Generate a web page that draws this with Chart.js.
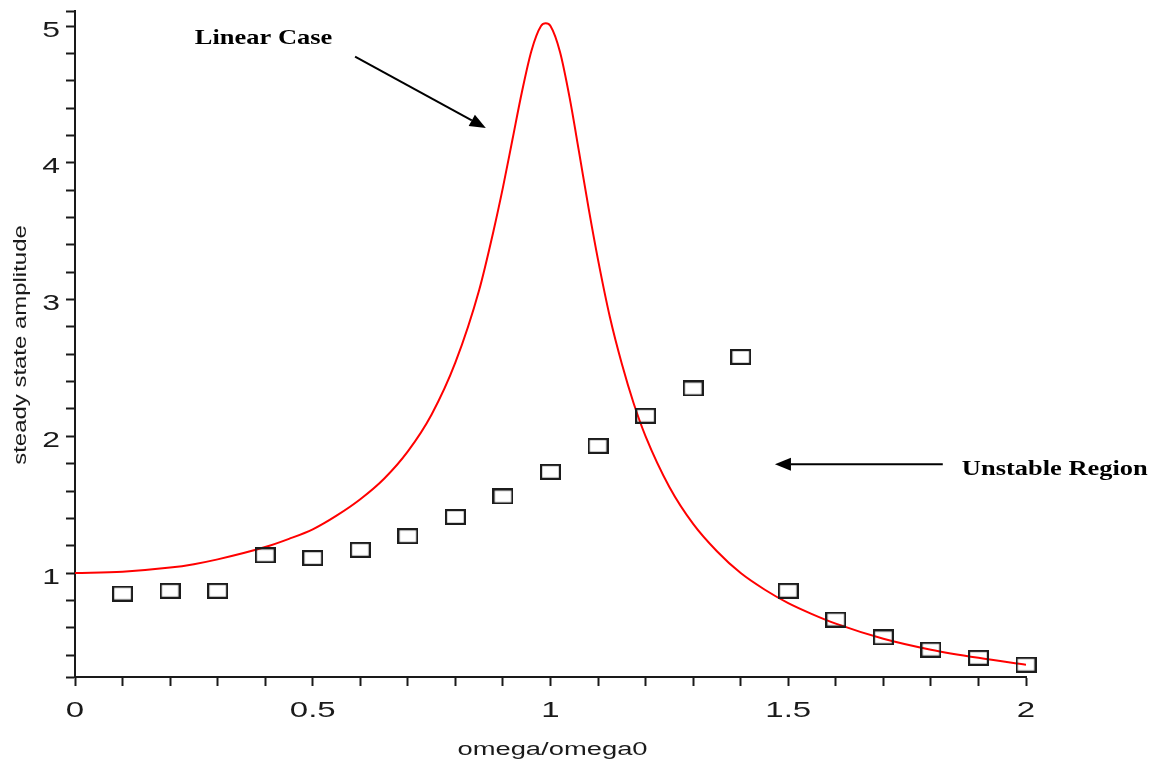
<!DOCTYPE html>
<html>
<head>
<meta charset="utf-8">
<title>steady state amplitude</title>
<script src="https://cdn.jsdelivr.net/npm/chart.js@4/dist/chart.umd.min.js"></script>
<style>
html, body { margin: 0; padding: 0; background: #ffffff; }
#wrap { position: relative; width: 1161px; height: 767px; }
</style>
</head>
<body>
<div id="wrap"><canvas id="ampChart"></canvas></div>
<script>
/*==================================================
 steady state amplitude vs omega/omega0
==================================================*/

//------------------------------------
// Data
//------------------------------------

// linear response (red curve)
const curveOmega = [0, 0.1, 0.2, 0.25, 0.3, 0.4, 0.45, 0.5, 0.55, 0.6, 0.65, 0.7, 0.75, 0.8, 0.85,
    0.88, 0.9, 0.92, 0.94, 0.96, 0.98, 0.99, 1.0, 1.02, 1.04, 1.06, 1.08, 1.1, 1.125, 1.15, 1.175,
    1.2, 1.25, 1.3, 1.35, 1.4, 1.45, 1.5, 1.55, 1.6, 1.7, 1.8, 1.9, 2.0];
const curveAmp = [1.00, 1.01, 1.04, 1.065, 1.10, 1.19, 1.25, 1.32, 1.42, 1.54, 1.69, 1.89, 2.16, 2.54, 3.07,
    3.50, 3.82, 4.17, 4.52, 4.82, 5.00, 5.02, 5.00, 4.81, 4.48, 4.08, 3.67, 3.29, 2.87, 2.53, 2.24,
    2.00, 1.63, 1.36, 1.16, 1.00, 0.88, 0.78, 0.70, 0.63, 0.52, 0.44, 0.38, 0.33];

// simulated points (boxes)
const pointOmega = [0.1, 0.2, 0.3, 0.4, 0.5, 0.6, 0.7, 0.8, 0.9, 1.0, 1.1, 1.2, 1.3, 1.4, 1.5, 1.6, 1.7, 1.8, 1.9, 2.0];
const pointAmp = [0.85, 0.87, 0.87, 1.13, 1.11, 1.17, 1.27, 1.41, 1.56, 1.74, 1.93, 2.15, 2.35, 2.58, 0.87, 0.66, 0.53, 0.44, 0.38, 0.33];

// axes
const xTickLabels = [0, 0.5, 1, 1.5, 2];
const yTickLabels = [1, 2, 3, 4, 5];
const xMin = 0, xMax = 2, xMinorStep = 0.1;
const yMin = 0.24, yMax = 5.11, yMinorStep = 0.2;
const xTitle = "omega/omega0";
const yTitle = "steady state amplitude";

// notes, placed in data units
const notes = [
    { text: "Linear Case", x: 0.252, y: 4.87 },
    { text: "Unstable Region", x: 1.865, y: 1.72 }
];
const arrows = [
    { from: [0.589, 4.777], to: [0.864, 4.254] },
    { from: [1.825, 1.795], to: [1.472, 1.795] }
];

//------------------------------------
// Helpers
//------------------------------------

function minorTicks(min, max, step, withEnds) {

    let out = [];

    const n = Math.round(max / step);

    for (let k = Math.ceil(min / step - 1e-9); k <= n; k++) {

        const v = Math.round(k * step * 1000) / 1000;

        if (v >= min && v <= max) out.push(v);

    }

    if (withEnds) {

        if (out[0] > min) out.unshift(min);

        if (out[out.length - 1] < max) out.push(max);

    }

    return out;
}

function boxMarker() {

    const c = document.createElement("canvas");

    c.width = 21;
    c.height = 16;

    const g = c.getContext("2d");

    g.strokeStyle = "#1c1c1c";
    g.lineWidth = 2.2;
    g.strokeRect(1.1, 1.1, 18.8, 13.8);

    return c;
}

function stretchText(ctx, text, x, y, sx, align) {

    ctx.save();
    ctx.translate(x, y);
    ctx.scale(sx, 1);
    ctx.textAlign = align;
    ctx.textBaseline = "alphabetic";
    ctx.fillText(text, 0, 0);
    ctx.restore();
}

function drawArrow(ctx, x1, y1, x2, y2) {

    const ang = Math.atan2(y2 - y1, x2 - x1);
    const len = 16, half = 6.5;
    const c = Math.cos(ang), s = Math.sin(ang);

    ctx.beginPath();
    ctx.moveTo(x1, y1);
    ctx.lineTo(x2 - len * c, y2 - len * s);
    ctx.stroke();

    ctx.beginPath();
    ctx.moveTo(x2, y2);
    ctx.lineTo(x2 - len * c + half * s, y2 - len * s - half * c);
    ctx.lineTo(x2 - len * c - half * s, y2 - len * s + half * c);
    ctx.closePath();
    ctx.fill();
}

//------------------------------------
// Labels, titles and notes
//------------------------------------

const textPlugin = {

    id: "textPlugin",

    afterDraw(chart) {

        const ctx = chart.ctx;
        const xs = chart.scales.x;
        const ys = chart.scales.y;

        ctx.save();
        ctx.fillStyle = "#1a1a1a";

        // tick labels
        ctx.font = "22px 'Liberation Sans', Arial, sans-serif";

        yTickLabels.forEach(v => {
            stretchText(ctx, String(v), ys.right - 15, ys.getPixelForValue(v) + 10.7, 1.45, "right");
        });

        xTickLabels.forEach(v => {
            stretchText(ctx, String(v), xs.getPixelForValue(v), 716.5, 1.5, "center");
        });

        // axis titles
        ctx.font = "18px 'Liberation Sans', Arial, sans-serif";

        stretchText(ctx, xTitle, (xs.left + xs.right) / 2 + 2, 755, 1.52, "center");

        ctx.save();
        ctx.translate(26, 345);
        ctx.rotate(-Math.PI / 2);
        stretchText(ctx, yTitle, 0, 0, 1.33, "center");
        ctx.restore();

        // notes
        ctx.fillStyle = "#000000";
        ctx.font = "bold 21px 'Liberation Serif', 'Times New Roman', serif";

        notes.forEach(n => {
            stretchText(ctx, n.text, xs.getPixelForValue(n.x), ys.getPixelForValue(n.y), 1.26, "left");
        });

        ctx.strokeStyle = "#000000";
        ctx.lineWidth = 2;

        arrows.forEach(a => {
            drawArrow(ctx,
                xs.getPixelForValue(a.from[0]), ys.getPixelForValue(a.from[1]),
                xs.getPixelForValue(a.to[0]), ys.getPixelForValue(a.to[1]));
        });

        ctx.restore();
    }
};

//------------------------------------
// Chart
//------------------------------------

const axisGrid = {
    drawOnChartArea: false,
    drawTicks: true,
    tickLength: 9,
    tickWidth: 2,
    tickColor: "#1a1a1a"
};

const axisBorder = { display: true, color: "#1a1a1a", width: 2 };

const ampChart = new Chart(document.getElementById("ampChart"), {
    type: "scatter",
    data: {
        datasets: [
            {
                label: "linear",
                data: curveOmega.map((x, i) => ({ x: x, y: curveAmp[i] })),
                showLine: true,
                borderColor: "#ff0000",
                borderWidth: 2,
                pointRadius: 0,
                cubicInterpolationMode: "monotone",
                order: 2
            },
            {
                label: "nonlinear",
                data: pointOmega.map((x, i) => ({ x: x, y: pointAmp[i] })),
                pointStyle: boxMarker(),
                pointRadius: 10,
                clip: false,
                order: 1
            }
        ]
    },
    options: {
        responsive: true,
        maintainAspectRatio: false,
        animation: false,
        events: [],
        layout: { padding: { top: 10, right: 135, left: 0, bottom: 0 } },
        plugins: {
            legend: { display: false },
            tooltip: { enabled: false }
        },
        scales: {
            x: {
                type: "linear",
                min: xMin,
                max: xMax,
                afterBuildTicks: s => { s.ticks = minorTicks(xMin, xMax, xMinorStep, false).map(v => ({ value: v })); },
                afterFit: s => { s.height = 90; },
                ticks: { display: false, autoSkip: false },
                grid: axisGrid,
                border: axisBorder
            },
            y: {
                type: "linear",
                min: yMin,
                max: yMax,
                afterBuildTicks: s => { s.ticks = minorTicks(yMin, yMax, yMinorStep, true).map(v => ({ value: v })); },
                afterFit: s => { s.width = 75; },
                ticks: { display: false, autoSkip: false },
                grid: axisGrid,
                border: axisBorder
            }
        }
    },
    plugins: [textPlugin]
});
</script>
</body>
</html>
